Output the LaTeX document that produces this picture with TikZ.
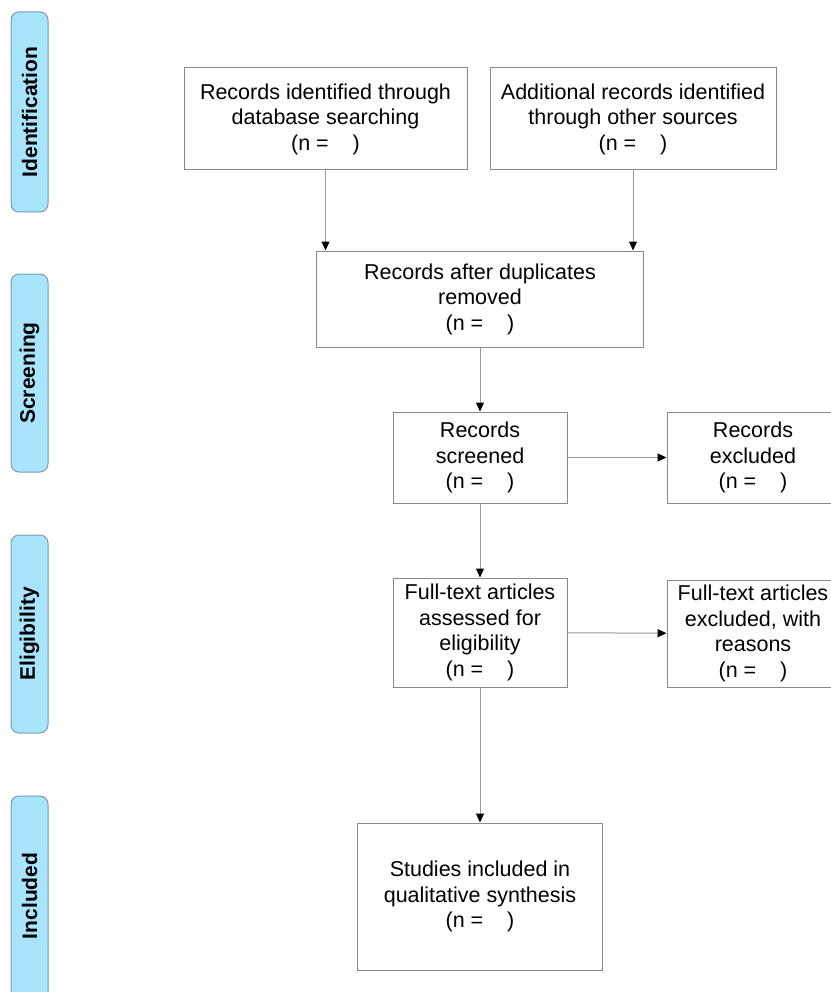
\documentclass[tikz,border=0pt]{standalone}
\usepackage{fontspec}
\setmainfont{Liberation Sans}
\usetikzlibrary{arrows.meta}
\definecolor{sidefill}{HTML}{A8E4FC}
\definecolor{sidedraw}{HTML}{7D9BAB}
\definecolor{boxdraw}{HTML}{8A8A8A}
\definecolor{linegray}{HTML}{9A9A9A}
\tikzset{
  flowbox/.style={draw=boxdraw, line width=1pt, fill=white, align=center, inner sep=0pt,
    font=\fontsize{21.5}{25.5}\selectfont},
  sidebox/.style={draw=sidedraw, line width=1pt, fill=sidefill, rounded corners=8pt,
    minimum width=37pt, inner sep=0pt},
  sidetext/.style={rotate=90, font=\bfseries\fontsize{21}{24}\selectfont},
  flowarrow/.style={draw=linegray, line width=1pt, -{Triangle[length=9pt,width=8pt,color=black]}}
}
\begin{document}
\begin{tikzpicture}[x=1pt,y=-1pt]
\useasboundingbox (0,0) rectangle (830,992);
% side labels
\node[sidebox, minimum height=200pt] (s1) at (29.5,112) {};
\node[sidetext] (t1) at (s1.center) {Identification};
\node[sidebox, minimum height=198pt] (s2) at (29.5,373) {};
\node[sidetext] (t2) at (s2.center) {Screening};
\node[sidebox, minimum height=198pt] (s3) at (29.5,634) {};
\node[sidetext] (t3) at (s3.center) {Eligibility};
\node[sidebox, minimum height=220pt] (s4) at (29.5,906) {};
\node[sidetext] (t4) at (29.5,896) {Included};
% boxes
\node[flowbox, minimum width=283pt, minimum height=102pt] (b1) at (325.5,119)
  {Records identified through\\database searching\\(n =\ \ \ \ )};
\node[flowbox, minimum width=286pt, minimum height=102pt] (b2) at (633,119)
  {Additional records identified\\through other sources\\(n =\ \ \ \ )};
\node[flowbox, minimum width=327pt, minimum height=96pt] (b3) at (480,299)
  {Records after duplicates\\removed\\(n =\ \ \ \ )};
\node[flowbox, minimum width=174pt, minimum height=91pt] (b4) at (480,457.5)
  {Records\\screened\\(n =\ \ \ \ )};
\node[flowbox, minimum width=172pt, minimum height=91pt] (b5) at (753,457.5)
  {Records\\excluded\\(n =\ \ \ \ )};
\node[flowbox, minimum width=174pt, minimum height=109pt] (b6) at (480,632.5)
  {Full-text articles\\assessed for\\eligibility\\(n =\ \ \ \ )};
\node[flowbox, minimum width=172pt, minimum height=107pt] (b7) at (753,633.5)
  {Full-text articles\\excluded, with\\reasons\\(n =\ \ \ \ )};
\node[flowbox, minimum width=245pt, minimum height=147pt] (b8) at (480,896.5)
  {Studies included in\\qualitative synthesis\\(n =\ \ \ \ )};
% arrows
\draw[flowarrow] (b1.south) -- (b1.south |- b3.north);
\draw[flowarrow] (b2.south) -- (b2.south |- b3.north);
\draw[flowarrow] (b3) -- (b4);
\draw[flowarrow] (b4) -- (b5);
\draw[flowarrow] (b4) -- (b6);
\draw[flowarrow] (b6) -- (b7);
\draw[flowarrow] (b6) -- (b8);
\end{tikzpicture}
\end{document}
